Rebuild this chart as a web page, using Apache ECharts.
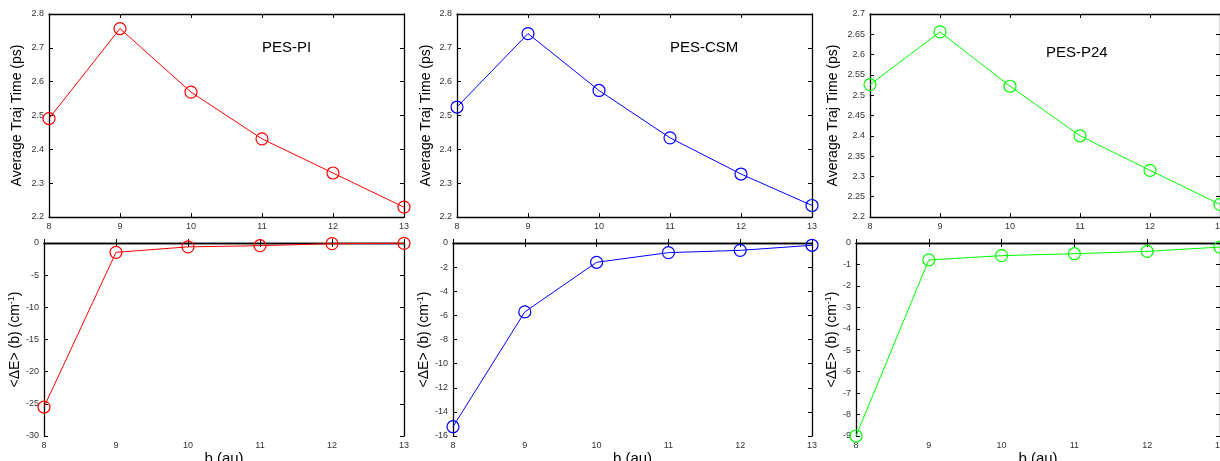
<!DOCTYPE html>
<html>
<head>
<meta charset="utf-8">
<script src="https://cdn.jsdelivr.net/npm/echarts@6/dist/echarts.min.js"></script>
<style>
  html, body { margin: 0; padding: 0; background: #fff; }
  #main { width: 1220px; height: 461px; }
</style>
</head>
<body>
<div id="main"></div>
<script>
// impact parameter b (au)
var bValues = [8, 9, 10, 11, 12, 13];

// average trajectory time (ps)
var timePI  = [2.491, 2.757, 2.569, 2.431, 2.330, 2.229];
var timeCSM = [2.525, 2.742, 2.574, 2.434, 2.327, 2.234];
var timeP24 = [2.526, 2.656, 2.522, 2.400, 2.315, 2.231];

// <dE>(b) in cm-1
var dePI  = [-25.5, -1.45, -0.6, -0.42, -0.1, -0.05];
var deCSM = [-15.23, -5.71, -1.6, -0.8, -0.61, -0.19];
var deP24 = [-9.0, -0.79, -0.59, -0.5, -0.39, -0.19];

var panelNames = ["PES-PI", "PES-CSM", "PES-P24"];
var colors = ["#ff0000", "#0000ff", "#00ff00"];

var fontFamily = "'Liberation Sans', Arial, Helvetica, sans-serif";

// grid boxes, one per panel (top row then bottom row)
var panels = [
    { left: 49,  top: 14,  width: 355, height: 203, y: timePI,  min: 2.2, max: 2.8, step: 0.1,  gap: 25, c: 0, top_row: true },
    { left: 457, top: 14,  width: 355, height: 203, y: timeCSM, min: 2.2, max: 2.8, step: 0.1,  gap: 24, c: 1, top_row: true },
    { left: 870, top: 14,  width: 350, height: 203, y: timeP24, min: 2.2, max: 2.7, step: 0.05, gap: 30, c: 2, top_row: true },
    { left: 44,  top: 243, width: 360, height: 193, y: dePI,    min: -30, max: 0, step: 5,   gap: 17, c: 0, top_row: false },
    { left: 453, top: 243, width: 359, height: 193, y: deCSM,   min: -16, max: 0, step: 2,   gap: 20, c: 1, top_row: false },
    { left: 856, top: 243, width: 364, height: 193, y: deP24,   min: -9,  max: 0, step: 1,   gap: 15, c: 2, top_row: false }
];

function toPairs(ys) {
    return bValues.map(function (b, i) { return [b, ys[i]]; });
}

var tickLabel = { fontSize: 9, color: "#333", fontFamily: fontFamily };
var frameLine = { lineStyle: { color: "#000", width: 1.3 } };

var grids = [], xAxes = [], yAxes = [], series = [];

panels.forEach(function (p, i) {
    grids.push({
        left: p.left, top: p.top, width: p.width, height: p.height,
        containLabel: false, outerBoundsMode: "none"
    });

    var xBase = {
        type: "value", gridIndex: i, min: 8, max: 13, interval: 1,
        axisLine: frameLine,
        axisTick: { inside: true, length: 4, lineStyle: { color: "#000" } },
        splitLine: { show: false }
    };
    // bottom x axis with labels
    xAxes.push(Object.assign({}, xBase, {
        position: "bottom",
        axisLabel: Object.assign({ margin: 5 }, tickLabel),
        name: p.top_row ? "" : "b (au)",
        nameLocation: "middle",
        nameGap: 14,
        nameTextStyle: { fontSize: 15, color: "#000", fontFamily: fontFamily, verticalAlign: "top" }
    }));
    // mirrored top x axis, ticks only
    xAxes.push(Object.assign({}, xBase, { position: "top", axisLabel: { show: false } }));

    var yBase = {
        type: "value", gridIndex: i, min: p.min, max: p.max, interval: p.step,
        axisLine: frameLine,
        axisTick: { inside: true, length: 4, lineStyle: { color: "#000" } },
        splitLine: { show: false }
    };
    yAxes.push(Object.assign({}, yBase, {
        position: "left",
        axisLabel: Object.assign({ margin: 5 }, tickLabel),
        name: p.top_row ? "Average Traj Time (ps)" : "<\u0394E> (b) (cm{sup|-1})",
        nameLocation: "middle",
        nameRotate: 90,
        nameGap: p.gap,
        nameTextStyle: {
            fontSize: 14, color: "#000", fontFamily: fontFamily,
            rich: { sup: { fontSize: 9, color: "#000", fontFamily: fontFamily, verticalAlign: "top", padding: [0, 0, 7, 0] } }
        }
    }));
    yAxes.push(Object.assign({}, yBase, { position: "right", axisLabel: { show: false } }));

    series.push({
        type: "line",
        xAxisIndex: 2 * i,
        yAxisIndex: 2 * i,
        data: toPairs(p.y),
        symbol: "circle",
        symbolSize: 12,
        showAllSymbol: true,
        clip: false,
        lineStyle: { color: colors[p.c], width: 1 },
        itemStyle: { color: "rgba(0,0,0,0)", borderColor: colors[p.c], borderWidth: 1.2 },
        emphasis: { disabled: true },
        animation: false
    });
});

var chart = echarts.init(document.getElementById("main"));
chart.setOption({
    animation: false,
    grid: grids,
    xAxis: xAxes,
    yAxis: yAxes,
    series: series,
    graphic: [
        { type: "text", left: 262, top: 40, style: { text: panelNames[0], fontSize: 15, fill: "#000", fontFamily: fontFamily } },
        { type: "text", left: 670, top: 40, style: { text: panelNames[1], fontSize: 15, fill: "#000", fontFamily: fontFamily } },
        { type: "text", left: 1046, top: 45, style: { text: panelNames[2], fontSize: 15, fill: "#000", fontFamily: fontFamily } }
    ]
});
</script>
</body>
</html>
